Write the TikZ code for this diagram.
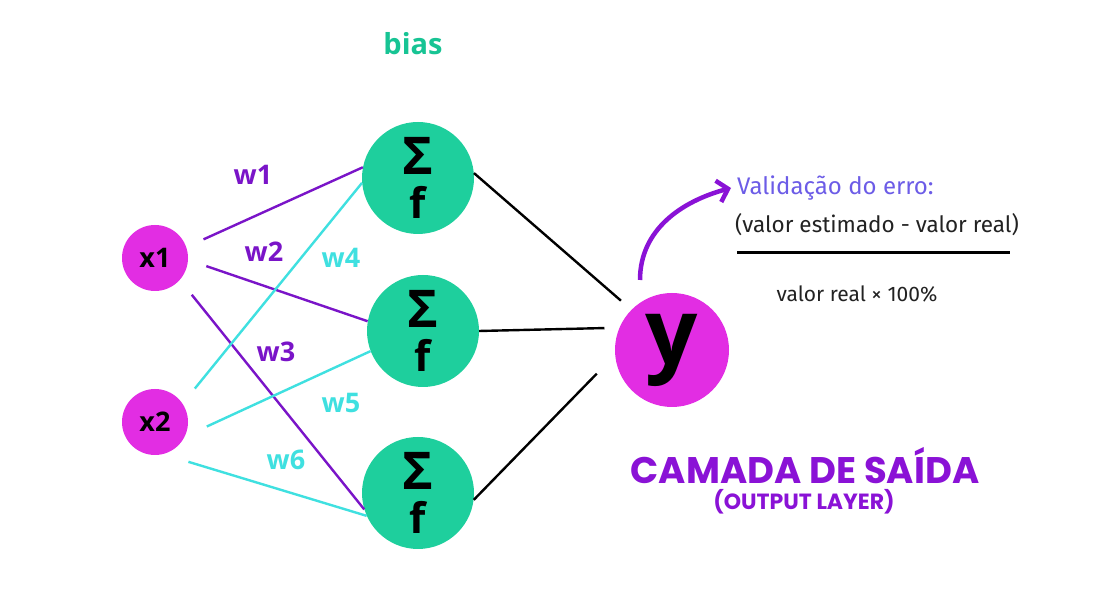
\documentclass[tikz,border=0pt]{standalone}
\usepackage{fontspec}
\setmainfont{Open Sans}
\newfontfamily\titlefont{Poppins}
\newfontfamily\formfont{Fira Sans}
\usetikzlibrary{arrows.meta}

\definecolor{inpink}{HTML}{E22DE3}
\definecolor{hidgreen}{HTML}{1ECF9D}
\definecolor{biasgreen}{HTML}{17C494}
\definecolor{wpurple}{HTML}{7A14C8}
\definecolor{wcyan}{HTML}{3FE0E0}
\definecolor{titlepurple}{HTML}{8A12D6}
\definecolor{valblue}{HTML}{6C5CE7}
\definecolor{formgray}{HTML}{222222}

\begin{document}
\begin{tikzpicture}[x=1pt,y=1pt,
    entrada/.style={circle,fill=inpink,minimum size=66pt,inner sep=0pt,
        outer sep=19pt,font=\bfseries\fontsize{27}{27}\selectfont},
    oculto/.style={circle,fill=hidgreen,minimum size=112pt,inner sep=0pt,
        align=center,font=\bfseries\fontsize{52}{44}\selectfont},
    saida/.style={circle,fill=inpink,minimum size=114pt,inner sep=0pt,
        outer sep=14pt,font=\bfseries\fontsize{92}{92}\selectfont},
    peso/.style={font=\bfseries\fontsize{27}{27}\selectfont},
    ligroxa/.style={wpurple,line width=2.4pt},
    ligciano/.style={wcyan,line width=2.4pt},
    ligpreta/.style={black,line width=2.4pt}]
    \useasboundingbox[fill=white] (0,0) rectangle (1112,609);

    % camada de entrada
    \node[entrada] (x1) at (155,351) {x1};
    \node[entrada] (x2) at (155,187) {x2};

    % camada oculta
    \node[oculto] (h1) at (418,431) {Σ\\{\fontsize{42}{44}\selectfont f}};
    \node[oculto] (h2) at (423,278) {Σ\\{\fontsize{42}{44}\selectfont f}};
    \node[oculto] (h3) at (418,116) {Σ\\{\fontsize{42}{44}\selectfont f}};
    \node[font=\bfseries\fontsize{29}{29}\selectfont,text=biasgreen] (bias) at (413,565) {bias};

    % camada de saida
    \node[saida] (y) at (672,259) {y};

    % pesos
    \draw[ligroxa] (x1.21) -- (h1.169);
    \draw[ligroxa] (x1.-9) -- (h2.170);
    \draw[ligroxa] (x1.-45) -- (h3.197);
    \draw[ligciano] (x2.40) -- (h1.185);
    \draw[ligciano] (x2.-5) -- (h2.201);
    \draw[ligciano] (x2.-50) -- (h3.204);
    \node[peso,text=wpurple] (w1) at (253,434) {w1};
    \node[peso,text=wpurple] (w2) at (264,357) {w2};
    \node[peso,text=wpurple] (w3) at (276,257) {w3};
    \node[peso,text=wcyan] (w4) at (341,351) {w4};
    \node[peso,text=wcyan] (w5) at (341,206) {w5};
    \node[peso,text=wcyan] (w6) at (286,149) {w6};

    \draw[ligpreta] (h1.5) -- (y.136);
    \draw[ligpreta] (h2.0) -- (y.162);
    \draw[ligpreta,shorten >=9pt] (h3.-7) -- (y.194);

    % validacao do erro
    \coordinate (seta) at (640,329);
    \node[anchor=west,inner sep=0pt,text=valblue,font=\formfont\fontsize{24}{24}\selectfont] (valid) at (737,421) {Validação do erro:};
    \node[anchor=west,inner sep=0pt,text=formgray,font=\formfont\fontsize{22.5}{22.5}\selectfont] (num) at (735,384) {(valor estimado - valor real)};
    \coordinate (barra1) at (737,356);
    \coordinate (barra2) at (1010,356);
    \draw[line width=3pt] (barra1) -- (barra2);
    \node[text=formgray,font=\formfont\fontsize{21}{21}\selectfont] (den) at (857,315) {valor real × 100\%};
    \draw[titlepurple,line width=4.5pt,-{Straight Barb[length=10pt,width=22pt]}]
        (seta) to[out=90,in=195] ([xshift=-6pt]valid.west);

    \node[inner sep=0pt,text=titlepurple,font=\titlefont\bfseries\fontsize{37}{37}\selectfont] (camada) at (805,143) {CAMADA DE SAÍDA};
    \node[inner sep=0pt,text=titlepurple,font=\titlefont\bfseries\fontsize{22}{22}\selectfont] (output) at (804,107) {(OUTPUT LAYER)};
\end{tikzpicture}
\end{document}
